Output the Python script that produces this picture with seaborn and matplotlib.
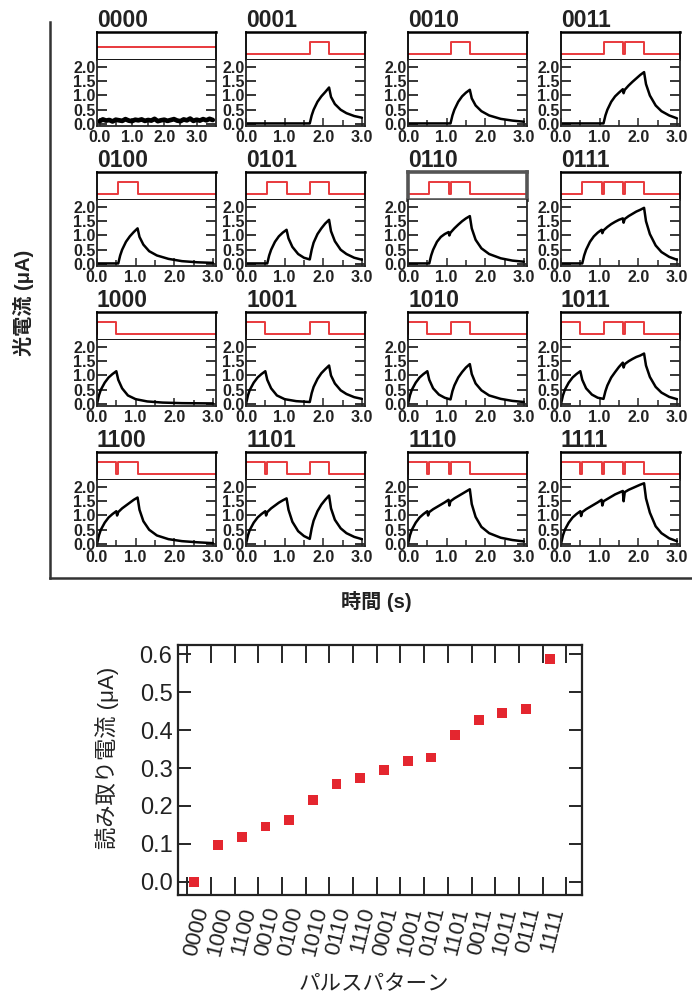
import numpy as np
import matplotlib
matplotlib.use('Agg')
import matplotlib.pyplot as plt
import matplotlib.transforms as mtransforms
import seaborn as sns

W, H = 692, 999

# --- data -----------------------------------------------------------------
patterns = ['0000', '0001', '0010', '0011',
            '0100', '0101', '0110', '0111',
            '1000', '1001', '1010', '1011',
            '1100', '1101', '1110', '1111']

pulse_period = 0.55   # s between bit slots
pulse_width = 0.5     # s light on per bit

# photocurrent traces (time in s, current in uA)
trace_t = {
    '0000': [round(0.1 * i, 1) for i in range(36)],
    '0001': [0, 1.65, 1.7, 1.75, 1.85, 1.95, 2.05, 2.15, 2.2, 2.3, 2.45, 2.6, 2.8, 3.0],
    '0010': [0, 1.1, 1.15, 1.2, 1.3, 1.4, 1.5, 1.6, 1.65, 1.75, 1.9, 2.1, 2.4, 2.7, 3.0],
    '0011': [0, 1.1, 1.15, 1.2, 1.3, 1.4, 1.5, 1.6, 1.62, 1.65, 1.75, 1.85, 1.95, 2.05, 2.15,
             2.2, 2.3, 2.45, 2.6, 2.8, 3.0],
    '0100': [0, 0.55, 0.6, 0.65, 0.75, 0.85, 0.95, 1.05, 1.1, 1.2, 1.35, 1.55, 1.85, 2.2, 2.6, 3.0],
    '0101': [0, 0.55, 0.6, 0.65, 0.75, 0.85, 0.95, 1.05, 1.1, 1.2, 1.35, 1.5, 1.65, 1.7, 1.75,
             1.85, 1.95, 2.05, 2.15, 2.2, 2.3, 2.45, 2.6, 2.8, 3.0],
    '0110': [0, 0.55, 0.6, 0.65, 0.75, 0.85, 0.95, 1.05, 1.07, 1.1, 1.2, 1.3, 1.4, 1.5, 1.6,
             1.65, 1.75, 1.9, 2.1, 2.4, 2.7, 3.0],
    '0111': [0, 0.55, 0.6, 0.65, 0.75, 0.85, 0.95, 1.05, 1.07, 1.1, 1.2, 1.3, 1.4, 1.5, 1.6,
             1.62, 1.65, 1.75, 1.85, 1.95, 2.05, 2.15, 2.2, 2.3, 2.45, 2.6, 2.8, 3.0],
    '1000': [0, 0.05, 0.1, 0.2, 0.3, 0.4, 0.5, 0.55, 0.65, 0.8, 1.0, 1.3, 1.7, 2.2, 3.0],
    '1001': [0, 0.05, 0.1, 0.2, 0.3, 0.4, 0.5, 0.55, 0.65, 0.8, 1.0, 1.3, 1.65, 1.7, 1.75,
             1.85, 1.95, 2.05, 2.15, 2.2, 2.3, 2.45, 2.6, 2.8, 3.0],
    '1010': [0, 0.05, 0.1, 0.2, 0.3, 0.4, 0.5, 0.55, 0.65, 0.8, 0.95, 1.1, 1.15, 1.2, 1.3,
             1.4, 1.5, 1.6, 1.65, 1.75, 1.9, 2.1, 2.4, 2.7, 3.0],
    '1011': [0, 0.05, 0.1, 0.2, 0.3, 0.4, 0.5, 0.55, 0.65, 0.8, 0.95, 1.1, 1.15, 1.2, 1.3,
             1.4, 1.5, 1.6, 1.62, 1.65, 1.75, 1.85, 1.95, 2.05, 2.15, 2.2, 2.3, 2.45, 2.6, 2.8, 3.0],
    '1100': [0, 0.05, 0.1, 0.2, 0.3, 0.4, 0.5, 0.52, 0.55, 0.65, 0.75, 0.85, 0.95, 1.05, 1.1,
             1.2, 1.35, 1.55, 1.85, 2.2, 2.6, 3.0],
    '1101': [0, 0.05, 0.1, 0.2, 0.3, 0.4, 0.5, 0.52, 0.55, 0.65, 0.75, 0.85, 0.95, 1.05, 1.1,
             1.2, 1.35, 1.5, 1.65, 1.7, 1.75, 1.85, 1.95, 2.05, 2.15, 2.2, 2.3, 2.45, 2.6, 2.8, 3.0],
    '1110': [0, 0.05, 0.1, 0.2, 0.3, 0.4, 0.5, 0.52, 0.55, 0.65, 0.75, 0.85, 0.95, 1.05, 1.07,
             1.1, 1.2, 1.3, 1.4, 1.5, 1.6, 1.65, 1.75, 1.9, 2.1, 2.4, 2.7, 3.0],
    '1111': [0, 0.05, 0.1, 0.2, 0.3, 0.4, 0.5, 0.52, 0.55, 0.65, 0.75, 0.85, 0.95, 1.05, 1.07,
             1.1, 1.2, 1.3, 1.4, 1.5, 1.6, 1.62, 1.65, 1.75, 1.85, 1.95, 2.05, 2.15, 2.2, 2.3,
             2.45, 2.6, 2.8, 3.0],
}
trace_i = {
    '0000': [0.10, 0.16, 0.12, 0.14, 0.09, 0.15, 0.13, 0.11, 0.17, 0.12, 0.10, 0.15,
             0.13, 0.16, 0.11, 0.14, 0.12, 0.18, 0.10, 0.13, 0.15, 0.11, 0.14, 0.17,
             0.12, 0.10, 0.16, 0.13, 0.19, 0.11, 0.15, 0.12, 0.17, 0.13, 0.18, 0.14],
    '0001': [0.02, 0.02, 0.3, 0.5, 0.78, 0.97, 1.12, 1.28, 0.95, 0.7, 0.5, 0.38, 0.28, 0.22],
    '0010': [0.02, 0.02, 0.3, 0.5, 0.78, 0.97, 1.1, 1.2, 0.9, 0.65, 0.45, 0.3, 0.18, 0.12, 0.08],
    '0011': [0.02, 0.02, 0.3, 0.5, 0.78, 0.97, 1.1, 1.22, 1.08, 1.2, 1.35, 1.48, 1.6, 1.72, 1.82,
             1.4, 1.0, 0.65, 0.45, 0.3, 0.2],
    '0100': [0.02, 0.02, 0.3, 0.5, 0.78, 0.97, 1.12, 1.25, 0.95, 0.68, 0.45, 0.3, 0.18, 0.1, 0.06, 0.04],
    '0101': [0.02, 0.02, 0.3, 0.5, 0.78, 0.97, 1.1, 1.2, 0.9, 0.6, 0.35, 0.22, 0.16, 0.5, 0.75,
             1.05, 1.25, 1.42, 1.55, 1.15, 0.8, 0.5, 0.35, 0.22, 0.15],
    '0110': [0.02, 0.02, 0.3, 0.5, 0.78, 0.95, 1.05, 1.12, 1.0, 1.1, 1.25, 1.38, 1.5, 1.6, 1.68,
             1.25, 0.85, 0.55, 0.35, 0.2, 0.12, 0.08],
    '0111': [0.02, 0.02, 0.3, 0.5, 0.78, 0.97, 1.1, 1.2, 1.08, 1.18, 1.3, 1.4, 1.48, 1.55, 1.6,
             1.45, 1.58, 1.68, 1.76, 1.84, 1.9, 1.97, 1.5, 1.05, 0.65, 0.42, 0.25, 0.15],
    '1000': [0, 0.3, 0.5, 0.75, 0.93, 1.05, 1.15, 0.85, 0.55, 0.3, 0.17, 0.09, 0.05, 0.03, 0.02],
    '1001': [0, 0.3, 0.5, 0.75, 0.93, 1.05, 1.15, 0.85, 0.55, 0.3, 0.17, 0.1, 0.07, 0.38, 0.6,
             0.88, 1.08, 1.22, 1.35, 1.0, 0.72, 0.48, 0.35, 0.24, 0.18],
    '1010': [0, 0.3, 0.5, 0.75, 0.93, 1.05, 1.15, 0.85, 0.55, 0.33, 0.22, 0.16, 0.45, 0.65, 0.93,
             1.12, 1.28, 1.4, 1.05, 0.72, 0.48, 0.3, 0.18, 0.11, 0.07],
    '1011': [0, 0.3, 0.5, 0.75, 0.93, 1.05, 1.15, 0.85, 0.55, 0.33, 0.22, 0.18, 0.45, 0.65, 0.93,
             1.12, 1.3, 1.45, 1.28, 1.4, 1.5, 1.58, 1.65, 1.7, 1.77, 1.35, 0.95, 0.6, 0.4, 0.25, 0.17],
    '1100': [0, 0.3, 0.5, 0.75, 0.93, 1.05, 1.15, 1.0, 1.12, 1.25, 1.35, 1.45, 1.55, 1.63, 1.2,
             0.8, 0.5, 0.3, 0.17, 0.1, 0.06, 0.03],
    '1101': [0, 0.3, 0.5, 0.75, 0.93, 1.05, 1.15, 1.0, 1.12, 1.25, 1.35, 1.45, 1.53, 1.6, 1.2,
             0.78, 0.45, 0.28, 0.18, 0.55, 0.82, 1.15, 1.38, 1.55, 1.7, 1.25, 0.85, 0.55, 0.38, 0.25, 0.17],
    '1110': [0, 0.3, 0.5, 0.75, 0.93, 1.05, 1.15, 1.0, 1.12, 1.22, 1.3, 1.38, 1.46, 1.55, 1.35,
             1.5, 1.6, 1.68, 1.76, 1.84, 1.92, 1.4, 0.95, 0.6, 0.38, 0.22, 0.14, 0.09],
    '1111': [0, 0.3, 0.5, 0.75, 0.93, 1.05, 1.15, 0.98, 1.12, 1.22, 1.3, 1.38, 1.46, 1.55, 1.35,
             1.5, 1.58, 1.66, 1.74, 1.8, 1.86, 1.5, 1.82, 1.9, 1.96, 2.02, 2.08, 2.13, 1.6, 1.1,
             0.62, 0.38, 0.2, 0.1],
}

# read-out current per pulse pattern (bottom plot)
readout_order = ['0000', '1000', '1100', '0010', '0100', '1010', '0110', '1110',
                 '0001', '1001', '0101', '1101', '0011', '1011', '0111', '1111']
readout_current = [0.0, 0.098, 0.118, 0.146, 0.162, 0.216, 0.258, 0.274,
                   0.295, 0.318, 0.328, 0.387, 0.427, 0.446, 0.455, 0.587]

y_ticks = [0.0, 0.5, 1.0, 1.5, 2.0]
t_ticks = [0.0, 1.0, 2.0, 3.0]

RED = '#e4262f'
PULSE_RED = '#e8393c'


def px_axes(fig, x0, y0, x1, y1):
    return fig.add_axes([x0 / W, 1 - y1 / H, (x1 - x0) / W, (y1 - y0) / H])


def pulse_trace(pat):
    xs, ys = [0.0], [0.0]
    for i, b in enumerate(pat):
        if b == '1':
            s = pulse_period * i
            xs += [s, s, s + pulse_width, s + pulse_width]
            ys += [0, 1, 1, 0]
    xs.append(3.1)
    ys.append(0)
    return xs, ys


def draw_panel(fig, pat, x0, top):
    x1 = x0 + 119
    ax_p = px_axes(fig, x0, top, x1, top + 28)
    ax_c = px_axes(fig, x0, top + 28, x1, top + 94)
    xmax = 3.6 if pat == '0000' else 3.08
    xmin = -0.08 if pat == '0000' else 0.0

    # light pulse box
    if pat == '0000':
        sns.lineplot(x=[xmin, xmax], y=[0.58, 0.58], ax=ax_p, color=PULSE_RED,
                     lw=1.4, estimator=None)
    else:
        px, py = pulse_trace(pat)
        sns.lineplot(x=px, y=py, ax=ax_p, color=PULSE_RED, lw=1.4,
                     estimator=None, sort=False)
    ax_p.set_xlim(xmin, xmax)
    ax_p.set_ylim(-0.465, 1.865)
    ax_p.set_xticks([])
    ax_p.set_yticks([])
    ax_p.set_xlabel('')
    ax_p.set_ylabel('')
    for name, sp in ax_p.spines.items():
        sp.set_visible(True)
        sp.set_linewidth(1.3)
        sp.set_color('black')
    ax_p.spines['top'].set_linewidth(1.8)
    if pat == '0110':
        for sp in ax_p.spines.values():
            sp.set_color('#555555')
            sp.set_linewidth(2.6)

    # photocurrent
    sns.lineplot(x=trace_t[pat], y=trace_i[pat], ax=ax_c, color='black',
                 lw=3.4 if pat == '0000' else 1.8, estimator=None, sort=False)
    ax_c.set_xlim(xmin, xmax)
    ax_c.set_ylim(-0.07, 2.245)
    ax_c.set_xlabel('')
    ax_c.set_ylabel('')
    ax_c.spines['top'].set_visible(False)
    for name in ['left', 'right', 'bottom']:
        ax_c.spines[name].set_visible(True)
        ax_c.spines[name].set_linewidth(1.3)
    ax_c.set_yticks(y_ticks)
    ax_c.set_yticklabels([f'{v:.1f}' for v in y_ticks], fontsize=11.5,
                         fontweight='bold', color='#222222')
    ax_c.set_xticks(t_ticks)
    ax_c.set_xticklabels([f'{v:.1f}' for v in t_ticks], fontsize=11.5,
                         fontweight='bold', color='#222222')
    ax_c.set_xticks([0.5, 1.5, 2.5], minor=True)
    ax_c.tick_params(axis='y', direction='in', length=7, width=1.3, left=True,
                     right=True, pad=1)
    ax_c.tick_params(axis='x', which='both', direction='in', width=1.1, top=False,
                     bottom=True, pad=3)
    ax_c.tick_params(axis='x', which='major', length=6)
    ax_c.tick_params(axis='x', which='minor', length=4)

    fig.text(x0 / W, 1 - (top - 5) / H, pat, fontsize=16.5, fontweight='bold',
             color='#222222', ha='left', va='baseline')


def main():
    sns.set_style('ticks')
    plt.rcParams['font.family'] = ['Liberation Sans', 'Noto Sans CJK JP', 'DejaVu Sans']
    plt.rcParams['axes.unicode_minus'] = False

    fig = plt.figure(figsize=(W / 100, H / 100), dpi=100)

    # outer L-shaped frame for the trace grid
    frame = px_axes(fig, 50, 22, 692, 578)
    frame.set_xticks([])
    frame.set_yticks([])
    frame.patch.set_alpha(0)
    for name in ['top', 'right']:
        frame.spines[name].set_visible(False)
    for name in ['left', 'bottom']:
        frame.spines[name].set_linewidth(1.8)
        frame.spines[name].set_color('#333333')

    col_left = [97, 246, 408, 561]
    for k, pat in enumerate(patterns):
        r, c = divmod(k, 4)
        draw_panel(fig, pat, col_left[c], 32 + 140 * r)

    fig.text(24 / W, 1 - 303 / H, '光電流 (μA)', rotation=90, fontsize=14.5,
             ha='center', va='center', fontweight='bold', color='#222222')
    fig.text(376 / W, 1 - 602 / H, '時間 (s)', fontsize=14.5, ha='center',
             va='center', fontweight='bold', color='#222222')

    # read-out current scatter
    ax = px_axes(fig, 178, 645, 582, 895)
    idx = list(range(len(readout_order)))
    sns.scatterplot(x=idx, y=readout_current, ax=ax, marker='s', s=50,
                    color=RED, edgecolor='none', linewidth=0)
    ax.set_xlim(-0.69, 16.36)
    ax.set_ylim(-0.035, 0.625)
    ax.set_yticks([0.0, 0.1, 0.2, 0.3, 0.4, 0.5, 0.6])
    ax.set_yticklabels([f'{v:.1f}' for v in [0.0, 0.1, 0.2, 0.3, 0.4, 0.5, 0.6]],
                       fontsize=17, color='#222222')
    ax.set_xticks(idx)
    ax.set_xticklabels(readout_order, fontsize=16, rotation=76, ha='right',
                       va='center', rotation_mode='anchor', color='#222222')
    ax.set_xticks([i - 0.3 for i in range(17)], minor=True)
    ax.tick_params(axis='x', which='major', length=0, pad=9)
    ax.tick_params(axis='x', which='minor', direction='in', length=13, width=1.4,
                   top=True, bottom=True)
    ax.tick_params(axis='y', direction='in', length=9.5, width=1.4, left=True,
                   right=True, pad=4)
    offset = mtransforms.ScaledTranslation(8 / 100, 0, fig.dpi_scale_trans)
    for lab in ax.get_xticklabels():
        lab.set_transform(lab.get_transform() + offset)
    for sp in ax.spines.values():
        sp.set_visible(True)
        sp.set_linewidth(1.6)
        sp.set_color('#222222')
    ax.set_xlabel('')
    ax.set_ylabel('')
    fig.text(107 / W, 1 - 758 / H, '読み取り電流 (μA)', rotation=90, fontsize=16,
             ha='center', va='center', color='#222222')
    fig.text(374 / W, 1 - 985 / H, 'パルスパターン', fontsize=15.5, ha='center',
             va='center', color='#222222')

    fig.savefig('out.png', dpi=100)
    plt.close(fig)


if __name__ == '__main__':
    main()
